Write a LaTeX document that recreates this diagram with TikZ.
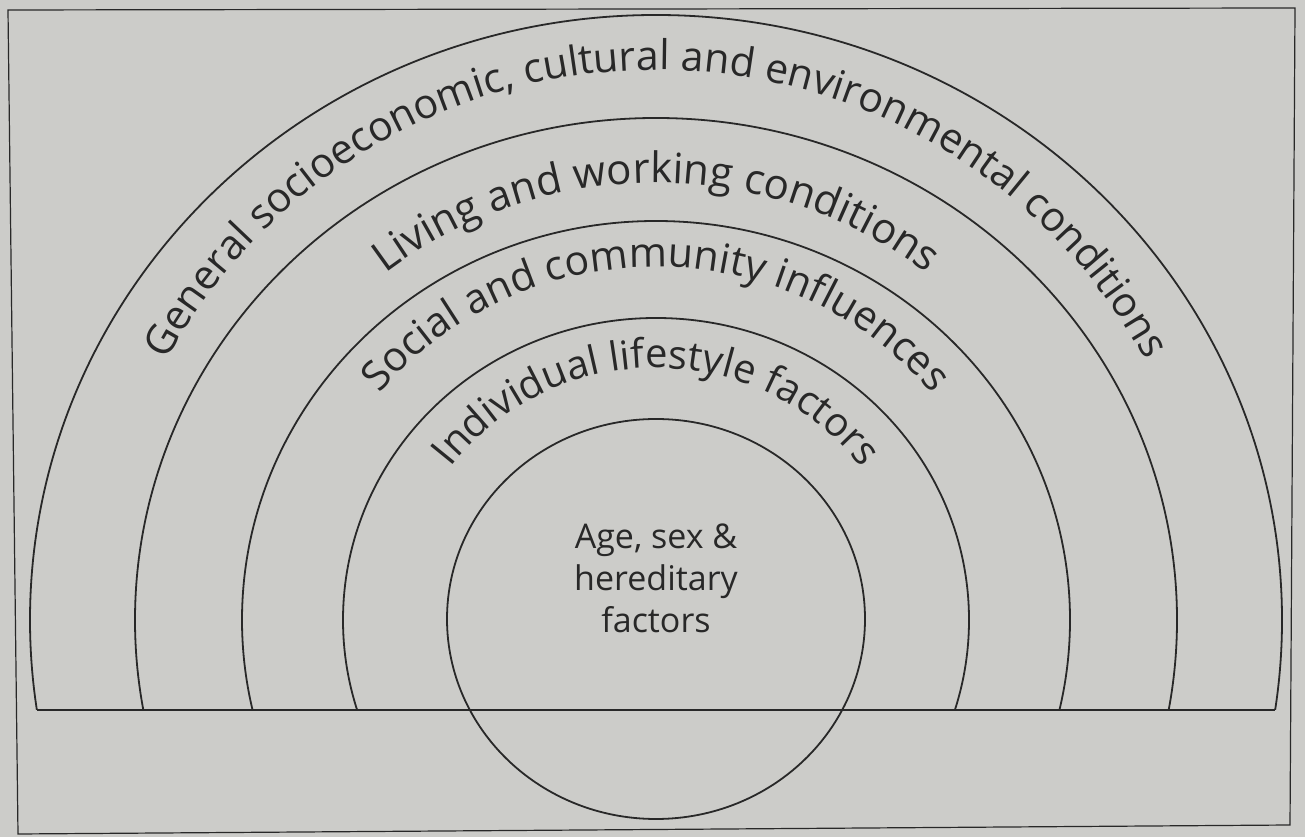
\documentclass[tikz,border=0pt]{standalone}
\usepackage{fontspec}
\setmainfont{Open Sans}
\usetikzlibrary{decorations.text}
\definecolor{paper}{RGB}{204,204,201}
\definecolor{ink}{RGB}{40,40,40}
\tikzset{
  ring/.style={draw=ink, line width=1.8pt},
  framestyle/.style={draw=ink, line width=1.2pt},
}
\begin{document}
\begin{tikzpicture}[x=1pt,y=1pt]
\useasboundingbox (0,0) rectangle (1305,837);
\fill[paper] (0,0) rectangle (1305,837);
% frame
\draw[framestyle] (8,827) -- (1295,829) -- (1290,12) -- (18,3) -- cycle;
% rainbow arcs, clipped at the base line
\begin{scope}
  \clip (0,127) rectangle (1305,837);
  \draw[ring] (656,217) ellipse[x radius=626, y radius=605];
  \draw[ring] (656,217) ellipse[x radius=521, y radius=502];
  \draw[ring] (656,217) ellipse[x radius=414, y radius=399];
  \draw[ring] (656,217) ellipse[x radius=313, y radius=302];
\end{scope}
\coordinate (bl) at (37,127);
\coordinate (br) at (1275,127);
\draw[ring] (bl) -- (br);
% inner circle
\draw[ring] (656,218) ellipse[x radius=209, y radius=200];
\node[align=center, text=ink, font=\fontsize{34}{42}\selectfont] (core) at (656,259) {Age, sex \&\\hereditary\\factors};
% texts along arcs
\path[decorate, decoration={text along path, text align=center, text color=ink,
  text={|\fontsize{41}{44}\selectfont|General socioeconomic, cultural and environmental conditions}}]
  (101,217) arc[start angle=180, end angle=0, x radius=555, y radius=550];
\path[decorate, decoration={text along path, text align=center, text color=ink,
  text={|\fontsize{42}{46}\selectfont|Living and working conditions}}]
  (211,217) arc[start angle=180, end angle=0, x radius=445, y radius=437];
\path[decorate, decoration={text along path, text align=center, text color=ink,
  text={|\fontsize{41}{44}\selectfont|Social and community influences}}]
  (296,217) arc[start angle=180, end angle=0, x radius=360, y radius=353];
\path[decorate, decoration={text along path, text align=center, text color=ink,
  text={|\fontsize{40}{44}\selectfont|Individual lifestyle factors}}]
  (398,217) arc[start angle=180, end angle=0, x radius=258, y radius=252];
\end{tikzpicture}
\end{document}
